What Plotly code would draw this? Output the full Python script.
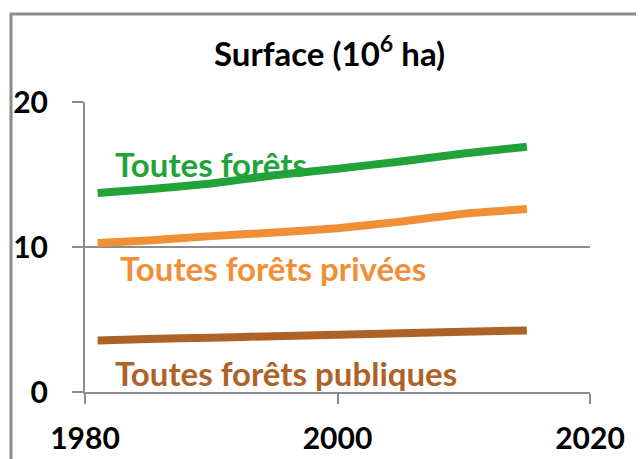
import plotly.graph_objects as go

years = [1981, 1985, 1990, 1995, 2000, 2005, 2010, 2015]
toutes = [13.72, 13.98, 14.38, 14.95, 15.4, 15.9, 16.45, 16.92]
privees = [10.27, 10.45, 10.75, 11.0, 11.3, 11.75, 12.3, 12.62]
publiques = [3.55, 3.65, 3.75, 3.85, 3.95, 4.05, 4.15, 4.25]

x_ticks = [1980, 2000, 2020]
y_ticks = [0, 10, 20]

GREEN = "#22a33a"
ORANGE = "#f08f35"
BROWN = "#ad6228"
GRAY = "#8c8c8c"
FONT = "Lato"

fig = go.Figure()
for vals, col in [(toutes, GREEN), (privees, ORANGE), (publiques, BROWN)]:
    fig.add_trace(go.Scatter(x=years, y=vals, mode="lines",
                             line=dict(color=col, width=8, shape="spline", smoothing=0.4),
                             hoverinfo="skip", showlegend=False))

labels = [("Toutes forêts", GREEN, 1982.2, 15.75),
          ("Toutes forêts privées", ORANGE, 1982.6, 8.55),
          ("Toutes forêts publiques", BROWN, 1982.2, 1.3)]
for txt, col, xx, yy in labels:
    fig.add_annotation(x=xx, y=yy, xref="x", yref="y", text=f"<b>{txt}</b>",
                       showarrow=False, xanchor="left", yanchor="middle",
                       font=dict(family=FONT, size=33, color=col))

fig.add_annotation(x=0.485, y=1.175, xref="paper", yref="paper",
                   text="<b>Surface (10<sup>6</sup> ha)</b>", showarrow=False,
                   xanchor="center", yanchor="middle",
                   font=dict(family=FONT, size=33, color="black"))

# outer frame
fig.add_shape(type="rect", xref="paper", yref="paper",
              x0=(11 - 85) / 505, x1=(720 - 85) / 505,
              y0=(392 - 520) / 290, y1=(392 - 14) / 290,
              line=dict(color=GRAY, width=3), layer="below")

fig.update_layout(
    width=644, height=459,
    margin=dict(l=77, r=62, t=94, b=75),
    paper_bgcolor="white", plot_bgcolor="white",
    xaxis=dict(range=[1980, 2020], tickvals=x_ticks, ticktext=[str(v) for v in x_ticks],
               showgrid=False, zeroline=False, showline=True, linecolor=GRAY, linewidth=2,
               ticks="outside", ticklen=10, tickwidth=2, tickcolor=GRAY,
               ticklabelstandoff=9, automargin=False,
               tickfont=dict(family=FONT, size=30, color="black", weight="bold")),
    yaxis=dict(range=[0, 20], tickvals=y_ticks, ticktext=[str(v) for v in y_ticks],
               showgrid=True, gridcolor=GRAY, gridwidth=2, zeroline=False,
               showline=True, linecolor=GRAY, linewidth=2,
               ticks="outside", ticklen=11, tickwidth=2, tickcolor=GRAY,
               ticklabelstandoff=18, automargin=False,
               tickfont=dict(family=FONT, size=30, color="black", weight="bold")),
)

fig.write_html("out.html")
